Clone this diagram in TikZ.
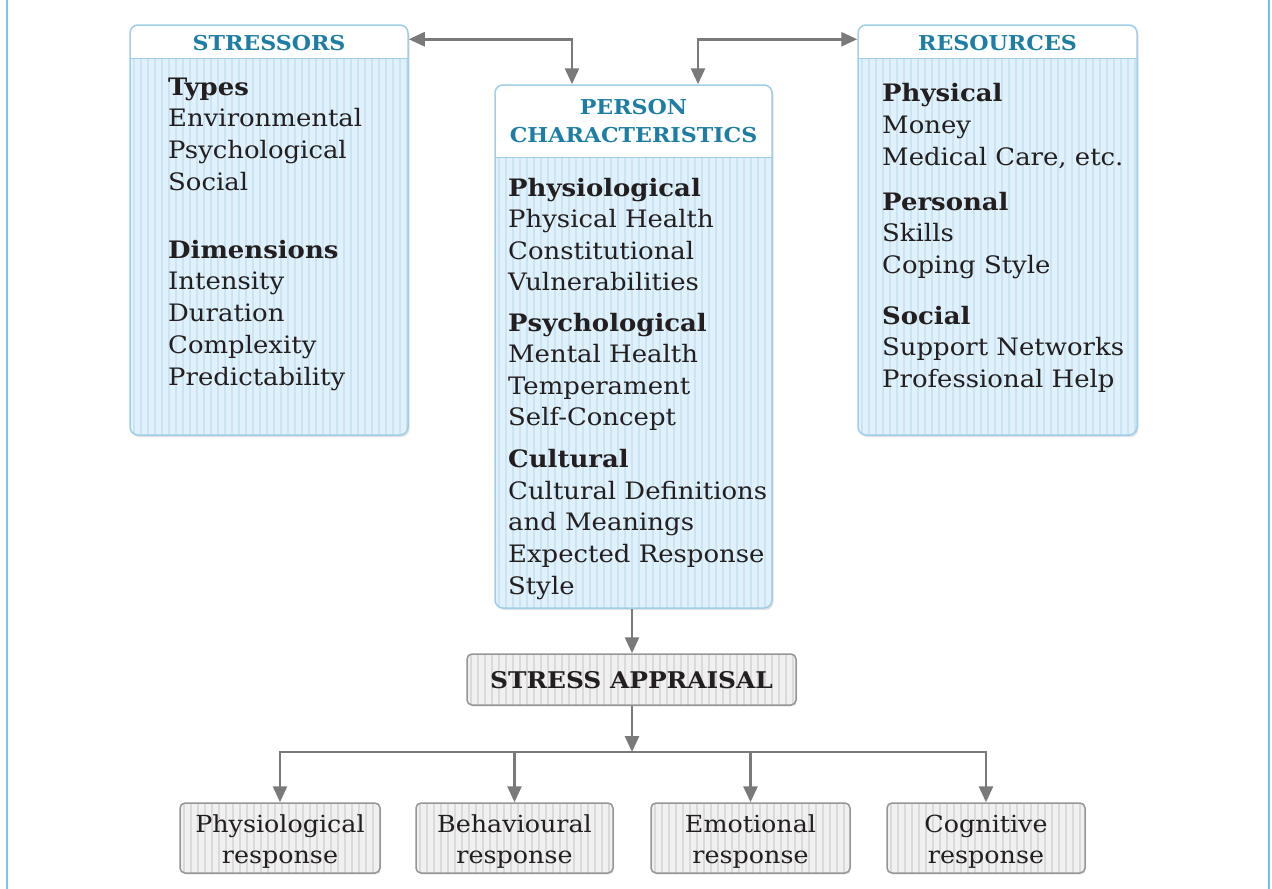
\documentclass[tikz,border=0pt]{standalone}
\usepackage{fontspec}
\setmainfont{DejaVu Serif}[FakeStretch=1.08]
\usetikzlibrary{arrows.meta,shadows}
\definecolor{boxfill}{RGB}{224,241,251}
\definecolor{boxstripe}{RGB}{203,228,244}
\definecolor{boxedge}{RGB}{160,206,232}
\definecolor{headblue}{RGB}{30,125,162}
\definecolor{grayfill}{RGB}{240,240,240}
\definecolor{graystripe}{RGB}{218,218,218}
\definecolor{grayedge}{RGB}{150,150,150}
\definecolor{arrgray}{RGB}{122,122,122}
\definecolor{txt}{RGB}{35,31,32}
\definecolor{leftline}{RGB}{125,196,236}
\definecolor{rightline}{RGB}{110,198,218}
\begin{document}
\begin{tikzpicture}[x=1pt,y=-1pt,
  bluebox/.style={draw=boxedge, line width=1.5pt, fill=boxfill, rounded corners=8pt, inner sep=0pt,
    drop shadow={shadow xshift=1.5pt, shadow yshift=-2pt, opacity=0.22, fill=black!50},
    path picture={
      \foreach \k in {1,...,45}{\draw[boxstripe, line width=1.6pt]
        ([xshift=\k*7pt-3pt]path picture bounding box.north west) --
        ([xshift=\k*7pt-3pt]path picture bounding box.south west);}
      \fill[white, sharp corners] (path picture bounding box.north west) rectangle
        ([yshift=-#1]path picture bounding box.north east);
      \draw[boxedge, line width=1pt] ([yshift=-#1]path picture bounding box.north west) --
        ([yshift=-#1]path picture bounding box.north east);
    }},
  graybox/.style={draw=grayedge, line width=1.5pt, fill=grayfill, rounded corners=5pt, inner sep=0pt,
    drop shadow={shadow xshift=1pt, shadow yshift=-1.5pt, opacity=0.18, fill=black!50},
    path picture={
      \foreach \k in {1,...,50}{\draw[graystripe, line width=1.4pt]
        ([xshift=\k*7pt-3pt]path picture bounding box.north west) --
        ([xshift=\k*7pt-3pt]path picture bounding box.south west);}
    }},
  resp/.style={inner sep=0pt, align=center, text=txt, font=\fontsize{23.5}{31}\selectfont},
  headtext/.style={inner sep=0pt, text=headblue, font=\fontsize{20.5}{25}\selectfont\bfseries},
  tline/.style={anchor=base west, inner sep=0pt, text=txt, font=\fontsize{24}{30}\selectfont},
  thead/.style={tline, font=\fontsize{24}{30}\selectfont\bfseries},
  arr/.style={draw=arrgray, line width=2.8pt, -{Triangle[length=16pt,width=14pt]}},
  arrboth/.style={draw=arrgray, line width=2.8pt, {Triangle[length=16pt,width=14pt]}-{Triangle[length=16pt,width=14pt]}}
]
\useasboundingbox (0,0) rectangle (1272,889);
\fill[white] (0,0) rectangle (1272,889);
\draw[leftline, line width=2pt] (6.5,0) -- (6.5,889);
\draw[rightline, line width=2pt] (1269,0) -- (1269,889);

% boxes
\node[bluebox=33pt, minimum width=278pt, minimum height=410pt] (stressors) at (269,230) {};
\node[bluebox=72pt, minimum width=277pt, minimum height=523pt] (person) at (633.5,346.5) {};
\node[bluebox=33pt, minimum width=279pt, minimum height=410pt] (resources) at (997.5,230) {};

% headers
\node[headtext] (hs) at (269,43) {STRESSORS};
\node[headtext] (hp1) at (633.5,107) {PERSON};
\node[headtext] (hp2) at (633.5,135) {CHARACTERISTICS};
\node[headtext] (hr) at (997.5,43) {RESOURCES};

% stressors text
\node[thead] (s1) at (168,95) {Types};
\node[tline] (s2) at (168,126) {Environmental};
\node[tline] (s3) at (168,158) {Psychological};
\node[tline] (s4) at (168,190) {Social};
\node[thead] (s5) at (168,258) {Dimensions};
\node[tline] (s6) at (168,289) {Intensity};
\node[tline] (s7) at (168,321) {Duration};
\node[tline] (s8) at (168,353) {Complexity};
\node[tline] (s9) at (168,385) {Predictability};

% person text
\node[thead] (p1) at (508,196) {Physiological};
\node[tline] (p2) at (508,227) {Physical Health};
\node[tline] (p3) at (508,259) {Constitutional};
\node[tline] (p4) at (508,290) {Vulnerabilities};
\node[thead] (p5) at (508,331) {Psychological};
\node[tline] (p6) at (508,362) {Mental Health};
\node[tline] (p7) at (508,394) {Temperament};
\node[tline] (p8) at (508,425) {Self-Concept};
\node[thead] (p9) at (508,467) {Cultural};
\node[tline] (p10) at (508,499) {Cultural Definitions};
\node[tline] (p11) at (508,530) {and Meanings};
\node[tline] (p12) at (508,562) {Expected Response};
\node[tline] (p13) at (508,594) {Style};

% resources text
\node[thead] (r1) at (882,101) {Physical};
\node[tline] (r2) at (882,133) {Money};
\node[tline] (r3) at (882,165) {Medical Care, etc.};
\node[thead] (r4) at (882,210) {Personal};
\node[tline] (r5) at (882,241) {Skills};
\node[tline] (r6) at (882,273) {Coping Style};
\node[thead] (r7) at (882,324) {Social};
\node[tline] (r8) at (882,355) {Support Networks};
\node[tline] (r9) at (882,387) {Professional Help};

% appraisal and responses
\node[graybox, minimum width=329pt, minimum height=51pt] (sa) at (631.5,679.5) {};
\node[resp, font=\fontsize{23}{30}\selectfont\bfseries] (sa-t) at (631.5,680) {STRESS APPRAISAL};
\node[graybox, minimum width=200pt, minimum height=70pt] (phys) at (280,838) {};
\node[graybox, minimum width=197pt, minimum height=70pt] (beh) at (514.5,838) {};
\node[graybox, minimum width=199pt, minimum height=70pt] (emo) at (750.5,838) {};
\node[graybox, minimum width=198pt, minimum height=70pt] (cog) at (986,838) {};
\node[resp] (phys-t) at ([yshift=-4pt]phys.center) {Physiological\\response};
\node[resp] (beh-t) at ([yshift=-4pt]beh.center) {Behavioural\\response};
\node[resp] (emo-t) at ([yshift=-4pt]emo.center) {Emotional\\response};
\node[resp] (cog-t) at ([yshift=-4pt]cog.center) {Cognitive\\response};

% connectors
\draw[arrboth] ([yshift=-15pt]stressors.north east) -| ([xshift=-61.5pt]person.north);
\draw[arrboth] ([xshift=64.5pt]person.north) |- ([yshift=-15pt]resources.north west);
\draw[arr] ([xshift=-1.5pt]person.south) -- ([xshift=0.5pt]sa.north);
\coordinate (bus) at (632,752);
\draw[arr] (sa.south -| bus) -- (bus);
\draw[arr] (bus) -| (phys.north);
\draw[arr] (bus) -| (cog.north);
\draw[arr] (beh.north |- bus) -- (beh.north);
\draw[arr] (emo.north |- bus) -- (emo.north);
\end{tikzpicture}
\end{document}
